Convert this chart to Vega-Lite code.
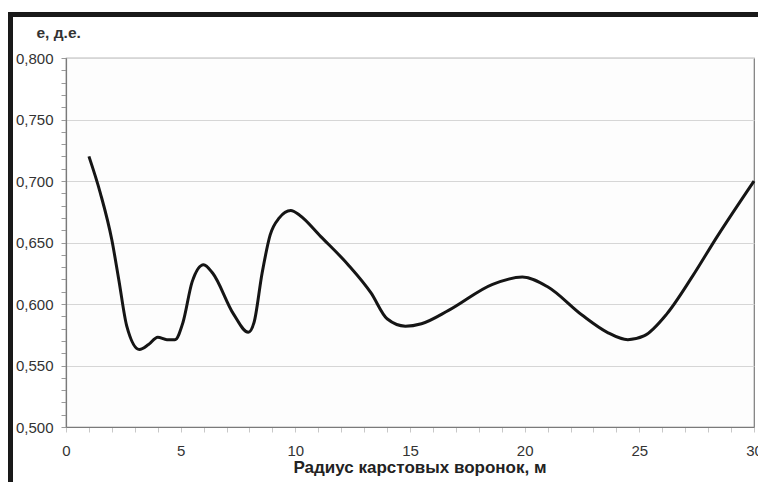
{
  "$schema": "https://vega.github.io/schema/vega-lite/v6.json",
  "width": 688,
  "height": 369,
  "autosize": "none",
  "padding": {"left": 66, "top": 58, "right": 4, "bottom": 55},
  "background": "white",
  "config": {
    "view": {"stroke": "#7a7a7a", "strokeWidth": 1.2, "fill": "#fdfdfd"},
    "font": "Liberation Sans"
  },
  "resolve": {"axis": {"x": "independent", "y": "independent"}},
  "data": {
    "values": [
      {"r": 1, "e": 0.720},
      {"r": 1.5, "e": 0.690},
      {"r": 2, "e": 0.652},
      {"r": 2.3, "e": 0.620},
      {"r": 2.65, "e": 0.582},
      {"r": 3.2, "e": 0.563},
      {"r": 3.6, "e": 0.567},
      {"r": 4.0, "e": 0.573},
      {"r": 4.4, "e": 0.571},
      {"r": 4.75, "e": 0.571},
      {"r": 5.1, "e": 0.585},
      {"r": 5.5, "e": 0.618},
      {"r": 6.0, "e": 0.632},
      {"r": 6.4, "e": 0.625},
      {"r": 7.3, "e": 0.592},
      {"r": 7.95, "e": 0.577},
      {"r": 8.2, "e": 0.585},
      {"r": 8.55, "e": 0.625},
      {"r": 8.9, "e": 0.656},
      {"r": 9.3, "e": 0.670},
      {"r": 9.8, "e": 0.676},
      {"r": 10.2, "e": 0.672},
      {"r": 11.1, "e": 0.655},
      {"r": 12.3, "e": 0.632},
      {"r": 13.3, "e": 0.609},
      {"r": 14.0, "e": 0.588},
      {"r": 14.8, "e": 0.582},
      {"r": 15.5, "e": 0.584},
      {"r": 16.7, "e": 0.595},
      {"r": 18.6, "e": 0.616},
      {"r": 19.9, "e": 0.622},
      {"r": 21.0, "e": 0.614},
      {"r": 22.5, "e": 0.591},
      {"r": 23.6, "e": 0.577},
      {"r": 24.5, "e": 0.571},
      {"r": 25.2, "e": 0.574},
      {"r": 26.2, "e": 0.592},
      {"r": 27.3, "e": 0.622},
      {"r": 28.4, "e": 0.655},
      {"r": 30, "e": 0.700}
    ]
  },
  "layer": [
    {
      "mark": {"type": "line", "interpolate": "monotone", "color": "#151515", "strokeWidth": 3, "clip": false},
      "encoding": {
        "x": {
          "field": "r",
          "type": "quantitative",
          "scale": {"domain": [0, 30], "nice": false, "zero": false},
          "axis": {
            "title": "Радиус карстовых воронок, м",
            "titleFont": "Liberation Sans",
            "titleFontSize": 17,
            "titleFontWeight": "bold",
            "titleColor": "#222222",
            "titleX": 353.5,
            "titleY": 45,
            "titleBaseline": "alphabetic",
            "values": [0,1,2,3,4,5,6,7,8,9,10,11,12,13,14,15,16,17,18,19,20,21,22,23,24,25,26,27,28,29,30],
            "labelExpr": "datum.value % 5 === 0 ? datum.label : ''",
            "labelFont": "Liberation Sans",
            "labelFontSize": 15,
            "labelColor": "#333333",
            "labelPadding": 11,
            "labelFlush": false,
            "labelOverlap": false,
            "tickColor": "#c8c8c8",
            "tickSize": 5,
            "domainColor": "#7a7a7a",
            "domainWidth": 1.2,
            "grid": false
          }
        },
        "y": {
          "field": "e",
          "type": "quantitative",
          "scale": {"domain": [0.5, 0.8], "nice": false, "zero": false},
          "axis": {
            "title": "е, д.е.",
            "titleFont": "Liberation Sans",
            "titleFontSize": 15.5,
            "titleFontWeight": "bold",
            "titleColor": "#333333",
            "titleAngle": 0,
            "titleAlign": "left",
            "titleBaseline": "alphabetic",
            "titleX": -30,
            "titleY": -21,
            "values": [0.5,0.51,0.52,0.53,0.54,0.55,0.56,0.57,0.58,0.59,0.6,0.61,0.62,0.63,0.64,0.65,0.66,0.67,0.68,0.69,0.7,0.71,0.72,0.73,0.74,0.75,0.76,0.77,0.78,0.79,0.8],
            "labelExpr": "abs(datum.value*20 - round(datum.value*20)) < 0.000001 ? replace(format(datum.value, '.3f'), '.', ',') : ''",
            "labelFont": "Liberation Sans",
            "labelFontSize": 15,
            "labelColor": "#333333",
            "labelPadding": 8,
            "labelFlush": false,
            "labelOverlap": false,
            "tickColor": "#9a9a9a",
            "tickSize": 5,
            "domainColor": "#7a7a7a",
            "domainWidth": 1.2,
            "grid": true,
            "gridColor": "#d6d6d6",
            "gridWidth": 1.2,
            "gridOpacity": {
              "condition": {"test": "abs(datum.value*20 - round(datum.value*20)) < 0.000001", "value": 1},
              "value": 0
            }
          }
        }
      }
    },
    {
      "mark": {"type": "rect", "fill": null, "fillOpacity": 0, "stroke": "#1a1a1a", "strokeWidth": 3.5, "clip": false},
      "encoding": {
        "x": {"datum": -2.42, "type": "quantitative", "scale": {"domain": [0, 30]}, "axis": null},
        "x2": {"datum": 30.5},
        "y": {"datum": 0.8354, "type": "quantitative", "scale": {"domain": [0.5, 0.8]}, "axis": null},
        "y2": {"datum": 0.44}
      }
    }
  ]
}
